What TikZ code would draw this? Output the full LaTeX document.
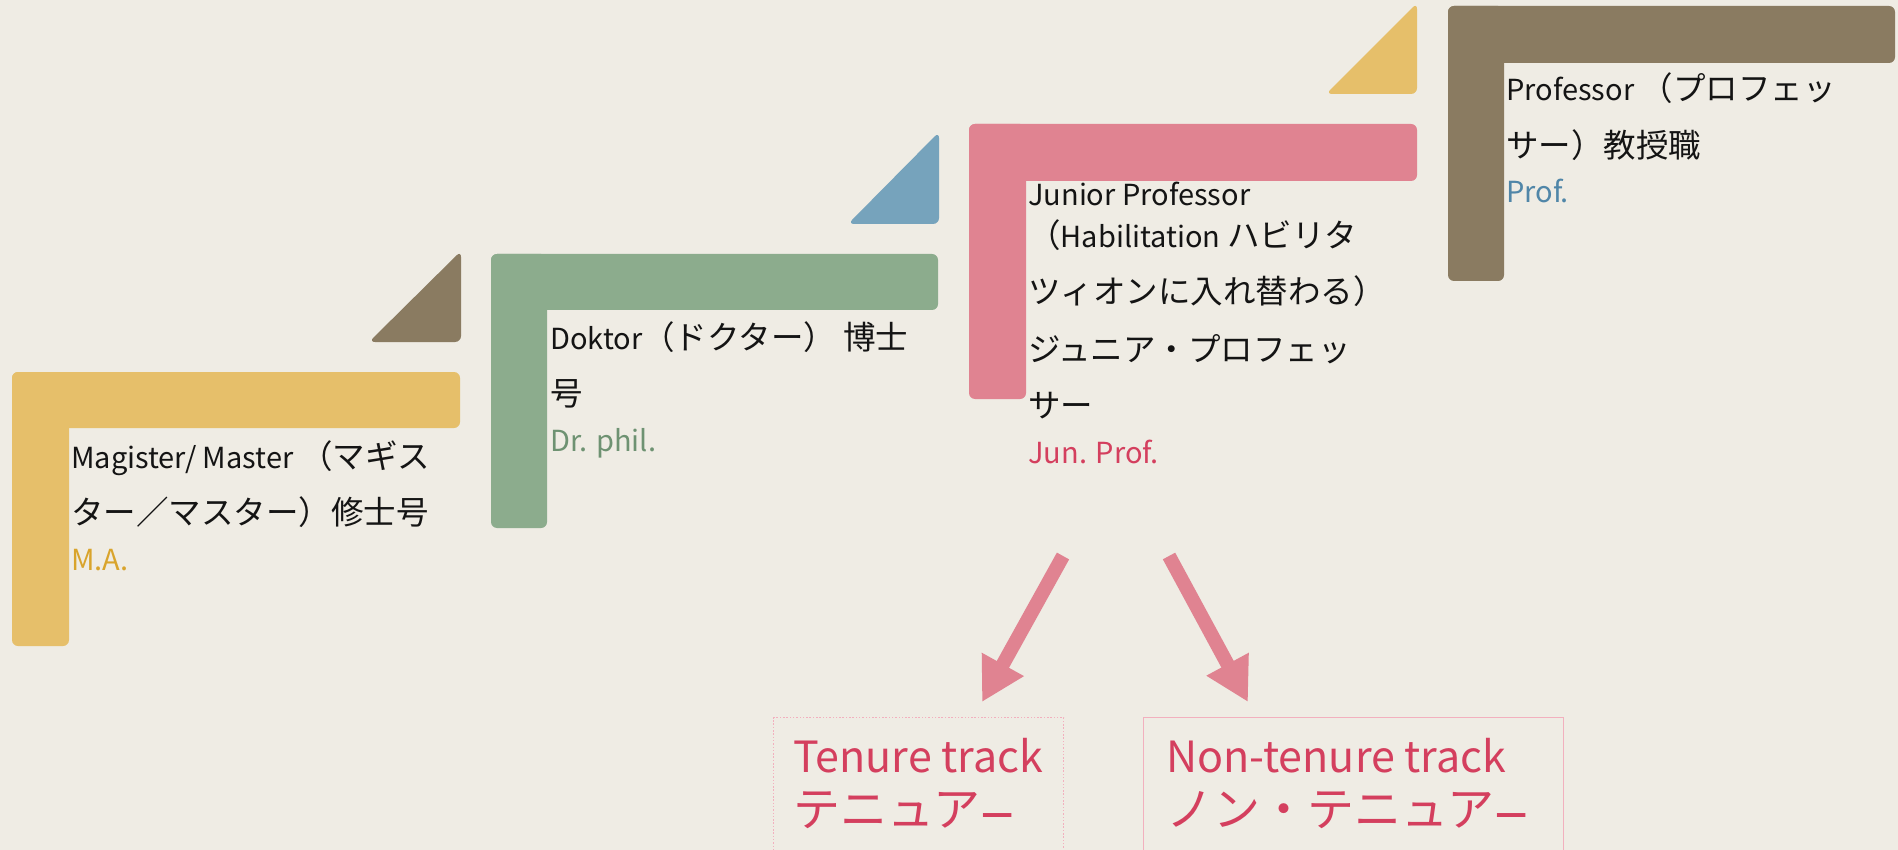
\documentclass[tikz,border=0pt]{standalone}
\usepackage{fontspec}
\setmainfont{Noto Sans CJK JP}
\usetikzlibrary{arrows.meta}
\definecolor{bg}{HTML}{EFECE4}
\definecolor{cgold}{HTML}{E6BF6A}
\definecolor{cbrown}{HTML}{8A7B61}
\definecolor{cgreen}{HTML}{8CAC8D}
\definecolor{cblue}{HTML}{76A3BC}
\definecolor{cpink}{HTML}{E08391}
\definecolor{tgold}{HTML}{D9A42C}
\definecolor{tgreen}{HTML}{6E9272}
\definecolor{tpink}{HTML}{D43F5E}
\definecolor{tblue}{HTML}{5086A8}
\definecolor{boxline}{HTML}{F2B0BE}
\newcommand\jp[1]{{\fontsize{32.5}{36}\selectfont #1}}
\newcommand\jpb[1]{{\fontsize{47}{50}\selectfont #1}}
\newcommand\longdash{{\fontsize{64}{50}\selectfont\raisebox{-7.5pt}{–}}}
\newcommand\Lshape[7]{%
  \fill[#1, rounded corners=6pt] (#2,#3) rectangle (#4,#5);
  \fill[#1, rounded corners=6pt] (#2,#3) rectangle (#6,#7);}
\newcommand\Tshape[5]{%
  \fill[#1, rounded corners=6pt] (#2,#3) -- (#2,#4) -- (#5,#4) -- cycle;}
\begin{document}
\begin{tikzpicture}[x=1pt,y=-1pt,
  txt/.style={inner sep=0pt, anchor=base west, font=\fontsize{29}{36}\selectfont, text=black!92},
  big/.style={inner sep=0pt, anchor=base west, font=\fontsize{43}{50}\selectfont, text=tpink},
  arr/.style={cpink, line width=14pt, -{Triangle[length=43pt,width=45pt]}},
  boxstyle/.style={draw=boxline, line width=1.4pt, anchor=north west, inner sep=0pt, minimum height=170pt}
]
\fill[bg] (0,0) rectangle (1898,850);
\useasboundingbox (0,0) rectangle (1898,850);
\clip (0,0) rectangle (1898,850);

% L shapes: colour, x0, y0, bar right, bar bottom, vertical right, vertical bottom
\Lshape{cgold}{12}{372}{460}{428}{69}{646}
\Lshape{cgreen}{491}{254}{938}{310}{547}{528}
\Lshape{cpink}{969}{124}{1417}{181}{1026}{399}
\Lshape{cbrown}{1448}{6}{1895}{63}{1504}{281}

% triangles: colour, right x, top y, bottom y, left x
\Tshape{cbrown}{461}{251}{342}{369}
\Tshape{cblue}{939}{132}{224}{848}
\Tshape{cgold}{1417}{3}{94}{1326}

% texts
\node[txt] (m1) at (71,468) {Magister/ Master \jp{（マギス}};
\node[txt] (m2) at (71,524) {\jp{ター／マスター）修士号}};
\node[txt, text=tgold] (m3) at (71,570) {M.A.};

\node[txt] (d1) at (550,349) {Doktor\jp{（ドクター） 博士}};
\node[txt] (d2) at (550,405) {\jp{号}};
\node[txt, text=tgreen] (d3) at (550,451) {Dr. phil.};

\node[txt] (j1) at (1028,206) {Junior Professor};
\node[txt] (j2) at (1028,248) {\jp{（}Habilitation \jp{ハビリタ}};
\node[txt] (j3) at (1028,304) {\jp{ツィオンに入れ替わる）}};
\node[txt] (j4) at (1028,361) {\jp{ジュニア・プロフェッ}};
\node[txt] (j5) at (1028,417) {\jp{サー}};
\node[txt, text=tpink] (j6) at (1028,463) {Jun. Prof.};

\node[txt] (p1) at (1506,101) {Professor \jp{（プロフェッ}};
\node[txt] (p2) at (1506,158) {\jp{サー）教授職}};
\node[txt, text=tblue] (p3) at (1506,203) {Prof.};

% arrows
\coordinate (a1s) at (1063,556);
\coordinate (a1e) at (982,702);
\coordinate (a2s) at (1169,556);
\coordinate (a2e) at (1248,702);
\draw[arr] (a1s) -- (a1e);
\draw[arr] (a2s) -- (a2e);

% boxes
\node[boxstyle, dash pattern=on 1.5pt off 1.8pt, minimum width=290pt] (tbox) at (773,717) {};
\node[boxstyle, minimum width=420pt] (nbox) at (1143,717) {};
\node[big] (t1) at (793,772) {Tenure track};
\node[big] (t2) at (793,826) {\jpb{テニュア}\longdash};
\node[big] (n1) at (1166,772) {Non-tenure track};
\node[big] (n2) at (1166,826) {\jpb{ノン・テニュア}\longdash};
\end{tikzpicture}
\end{document}
